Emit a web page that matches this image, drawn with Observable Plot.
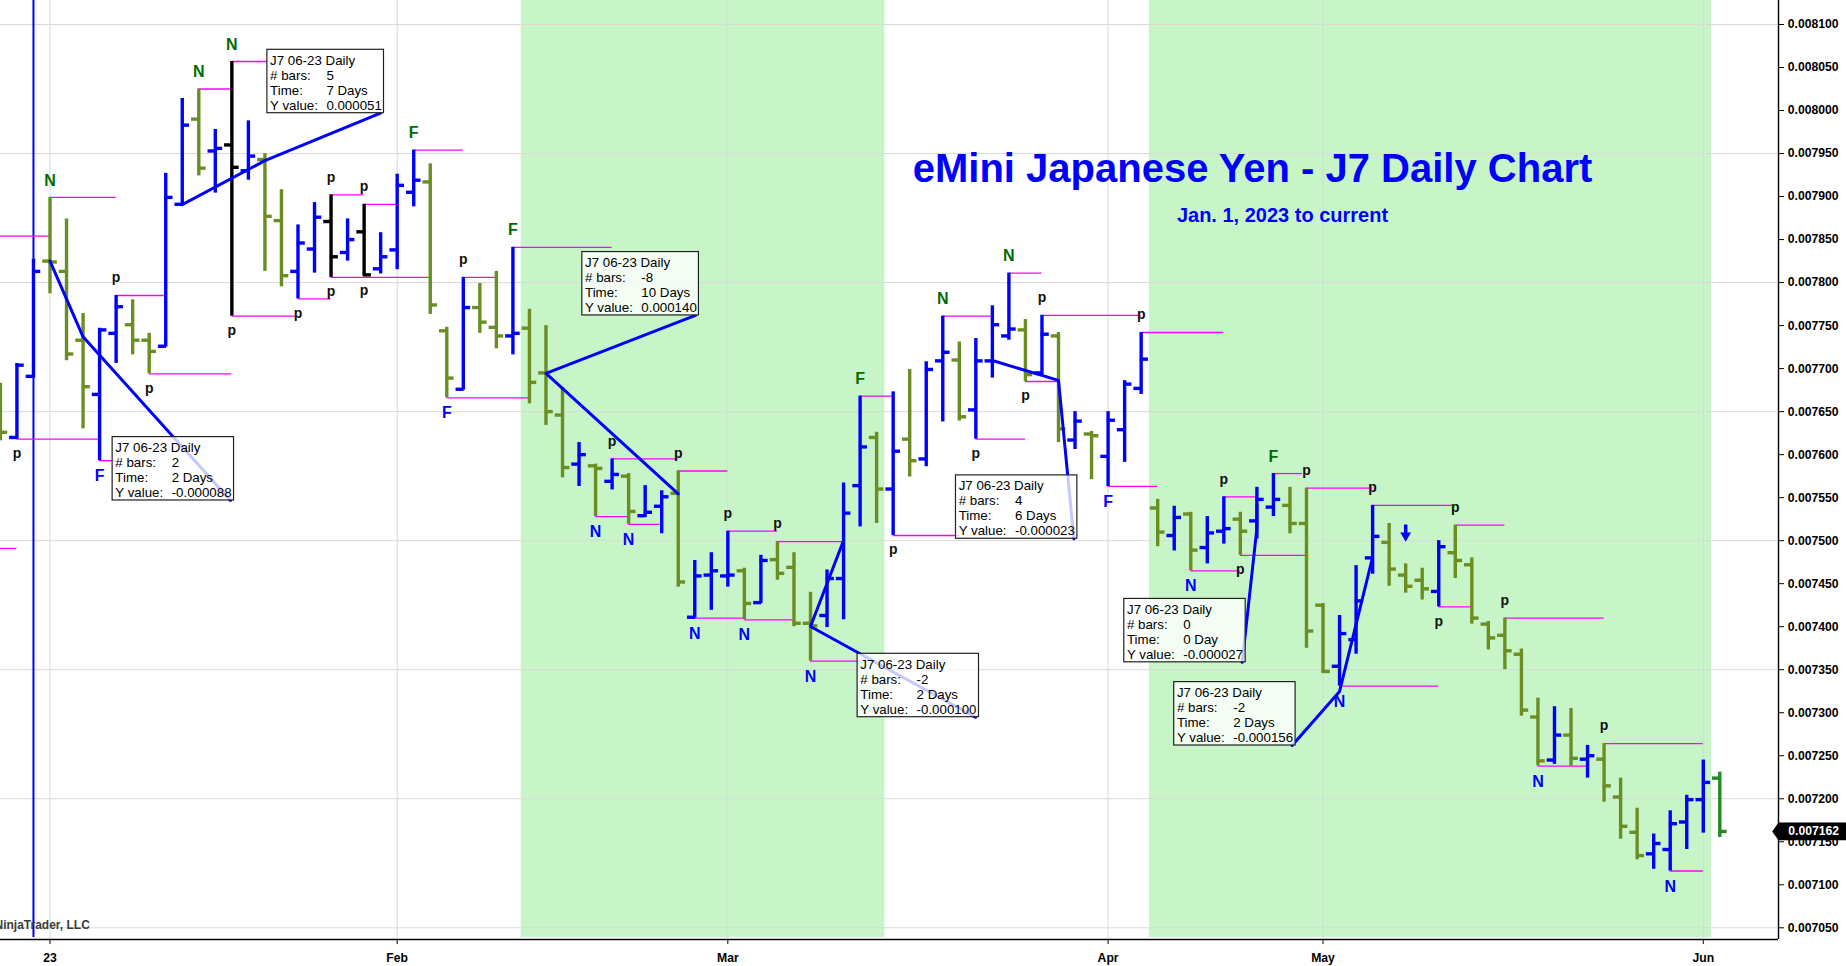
<!DOCTYPE html>
<html><head><meta charset="utf-8">
<script src="https://cdn.jsdelivr.net/npm/d3@7"></script>
<script src="https://cdn.jsdelivr.net/npm/@observablehq/plot@0.6"></script>
<style>html,body{margin:0;padding:0;background:#fff;overflow:hidden}</style>
</head><body><div id="chart"></div>
<script>
// ---------------- data ----------------
const firstBar = -3; // three December 2022 bars before Jan 3, 2023 (index 0)
const opens = [0.007660,0.007620,0.007691,
0.007825,0.007813,0.007733,0.007670,0.007741,0.007751,0.007733,0.007726,0.007891,0.007990,
0.007953,0.007960,0.007930,0.007943,0.007872,0.007813,0.007839,0.007871,0.007835,0.007859,
0.007816,0.007838,0.007905,0.007917,0.007744,0.007676,0.007771,0.007748,0.007738,0.007747,
0.007695,0.007646,0.007589,0.007587,0.007569,0.007575,0.007529,0.007540,0.007555,0.007411,
0.007460,0.007459,0.007465,0.007428,0.007478,0.007469,0.007404,0.007413,0.007456,0.007564,
0.007620,0.007560,0.007618,0.007595,0.007709,0.007710,0.007652,0.007709,0.007738,0.007745,
0.007695,0.007738,0.007617,0.007624,0.007598,0.007629,0.007677,0.007538,0.007506,0.007531,
0.007492,0.007511,0.007525,0.007523,0.007539,0.007541,0.007520,0.007425,0.007354,0.007385,
0.007480,0.007498,0.007460,0.007454,0.007441,0.007486,0.007472,0.007403,0.007390,0.007368,
0.007295,0.007245,0.007274,0.007246,0.007246,0.007202,0.007161,0.007136,0.007141,0.007173,
0.007199,0.007224];
const highs = [0.007683,0.007706,0.007827,
0.007899,0.007874,0.007764,0.007747,0.007785,0.007780,0.007741,0.007927,0.008014,0.008025,
0.007978,0.008057,0.007988,0.007950,0.007908,0.007867,0.007893,0.007902,0.007874,0.007891,
0.007858,0.007926,0.007954,0.007938,0.007748,0.007806,0.007799,0.007813,0.007841,0.007769,
0.007750,0.007678,0.007614,0.007589,0.007595,0.007578,0.007564,0.007558,0.007581,0.007477,
0.007486,0.007511,0.007468,0.007483,0.007499,0.007486,0.007440,0.007466,0.007567,0.007668,
0.007626,0.007673,0.007699,0.007708,0.007761,0.007731,0.007735,0.007773,0.007811,0.007757,
0.007762,0.007742,0.007650,0.007627,0.007650,0.007686,0.007742,0.007548,0.007540,0.007533,
0.007528,0.007551,0.007533,0.007562,0.007578,0.007562,0.007561,0.007427,0.007413,0.007471,
0.007541,0.007520,0.007473,0.007468,0.007500,0.007518,0.007480,0.007406,0.007410,0.007374,
0.007317,0.007307,0.007305,0.007262,0.007264,0.007224,0.007189,0.007159,0.007186,0.007204,
0.007245,0.007231];
const lows = [0.007616,0.007618,0.007689,
0.007787,0.007709,0.007630,0.007593,0.007706,0.007716,0.007694,0.007725,0.007890,0.007924,
0.007904,0.007761,0.007919,0.007813,0.007795,0.007781,0.007811,0.007806,0.007825,0.007808,
0.007810,0.007815,0.007888,0.007763,0.007666,0.007675,0.007741,0.007723,0.007716,0.007659,
0.007634,0.007573,0.007563,0.007528,0.007559,0.007519,0.007527,0.007508,0.007446,0.007410,
0.007419,0.007446,0.007408,0.007427,0.007454,0.007400,0.007360,0.007399,0.007408,0.007516,
0.007520,0.007506,0.007574,0.007586,0.007638,0.007639,0.007618,0.007689,0.007733,0.007685,
0.007693,0.007614,0.007606,0.007571,0.007563,0.007591,0.007670,0.007493,0.007488,0.007465,
0.007473,0.007496,0.007483,0.007502,0.007528,0.007508,0.007375,0.007346,0.007331,0.007368,
0.007461,0.007447,0.007439,0.007431,0.007423,0.007456,0.007403,0.007373,0.007350,0.007296,
0.007238,0.007240,0.007238,0.007224,0.007196,0.007153,0.007129,0.007118,0.007116,0.007141,
0.007160,0.007155];
const closes = [0.007626,0.007704,0.007813,
0.007824,0.007717,0.007679,0.007745,0.007772,0.007733,0.007720,0.007899,0.007983,0.007933,
0.007956,0.007934,0.007947,0.007877,0.007808,0.007846,0.007876,0.007830,0.007850,0.007809,
0.007830,0.007913,0.007919,0.007774,0.007689,0.007771,0.007754,0.007738,0.007741,0.007684,
0.007650,0.007585,0.007600,0.007584,0.007577,0.007534,0.007533,0.007551,0.007452,0.007459,
0.007465,0.007460,0.007427,0.007477,0.007462,0.007404,0.007401,0.007456,0.007532,0.007609,
0.007560,0.007604,0.007593,0.007699,0.007719,0.007644,0.007709,0.007751,0.007746,0.007693,
0.007740,0.007630,0.007639,0.007622,0.007640,0.007682,0.007711,0.007510,0.007527,0.007489,
0.007509,0.007514,0.007511,0.007548,0.007548,0.007520,0.007395,0.007348,0.007392,0.007430,
0.007505,0.007467,0.007447,0.007444,0.007493,0.007477,0.007410,0.007387,0.007372,0.007303,
0.007244,0.007274,0.007247,0.007250,0.007215,0.007168,0.007134,0.007148,0.007171,0.007199,
0.007219,0.007162];
const blackBars = [11, 17, 19];            // bars painted black
const monthTicks = [0, 21, 41, 64, 77, 100];
const monthLabels = ["23", "Feb", "Mar", "Apr", "May", "Jun"];
const shadedFrom = [28.5, 66.5];
const shadedTo = [50.5, 100.5];
const verticalLineBar = -1;
// swing level lines: start bar, end bar, price
const levelStart = [-3,-3,0,-2,3,4,6,9,11,11,15,17,17,19,22,24,25,28,33,34,35,38,39,41,42,44,46,49,51,54,56,58,59,60,64,66,69,71,72,74,76,78,80,84,85,88,90,94,98];
const levelEnd   = [0,-2,4,3,4,7,11,11,13.2,15,17,19,23,21,25,29,27,34,35,38,37,41,42,44,45,48,49,51,55,57,59,60,61,66,67,71,72,73,76,75.75,80,84,85,86,88,94,93,100,100];
const levelPrice = [0.007854,0.007491,0.007899,0.007618,0.007593,0.007785,0.007694,0.008025,0.008057,0.007761,0.007781,0.007902,0.007806,0.007891,0.007954,0.007666,0.007806,0.007841,0.007528,0.007595,0.007519,0.007581,0.007410,0.007511,0.007408,0.007499,0.007360,0.007668,0.007506,0.007761,0.007618,0.007811,0.007685,0.007762,0.007563,0.007742,0.007465,0.007551,0.007483,0.007578,0.007561,0.007331,0.007541,0.007423,0.007518,0.007410,0.007238,0.007264,0.007116];
// swing labels: bar, text, a = above high / b = below low
const swingLabels = [[-2,"p","b"],[0,"N","a"],[3,"F","b"],[4,"p","a"],[6,"p","b"],[9,"N","a"],[11,"N","a"],[11,"p","b"],[15,"p","b"],[17,"p","a"],[17,"p","b"],[19,"p","a"],[19,"p","b"],[22,"F","a"],[24,"F","b"],[25,"p","a"],[28,"F","a"],[33,"N","b"],[34,"p","a"],[35,"N","b"],[38,"p","a"],[39,"N","b"],[41,"p","a"],[42,"N","b"],[44,"p","a"],[46,"N","b"],[49,"F","a"],[51,"p","b"],[54,"N","a"],[56,"p","b"],[58,"N","a"],[59,"p","b"],[60,"p","a"],[64,"F","b"],[66,"p","a"],[69,"N","b"],[71,"p","a"],[72,"p","b"],[74,"F","a"],[76,"p","a"],[78,"N","b"],[80,"p","a"],[84,"p","b"],[85,"p","a"],[88,"p","a"],[90,"N","b"],[94,"p","a"],[98,"N","b"]];
// ruler measurements
const rulerStartBar = [0, 8, 38, 48, 57, 73, 80];
const rulerStartPrice = [0.0078250, 0.0078907, 0.0075545, 0.0075002, 0.0077094, 0.0075412, 0.0074808];
const rulerBars = [2, 5, -8, -2, 4, 0, -2];
const rulerDays = [2, 7, 10, 2, 6, 0, 2];
const rulerYValue = [-0.000088, 0.000051, 0.000140, -0.000100, -0.000023, -0.000027, -0.000156];
const rulerTagBar = [10.92, 19.99, 39.04, 55.98, 61.93, 72.11, 75.13];
const rulerTagPrice = [0.0075467, 0.0079969, 0.0077618, 0.0072948, 0.0075022, 0.0073586, 0.0072619];
const arrowBar = 82, arrowPrice = 0.0075060;
const title = "eMini Japanese Yen - J7 Daily Chart";
const subtitle = "Jan. 1, 2023 to current";
const instrument = "J7 06-23 Daily";

// ---------------- layout ----------------
const W = 1846, H = 966, mL = 0, mR = 68, mT = 0, mB = 27;
const xDomain = [-2.994, 104.55];
const yDomain = [0.0070364, 0.0081279];
const kx = (W - mL - mR) / (xDomain[1] - xDomain[0]);
const ky = (H - mT - mB) / (yDomain[1] - yDomain[0]);
const FONT = "'Liberation Sans', Arial, Helvetica, sans-serif";

const bars = opens.map((o, k) => ({i: firstBar + k, open: o, high: highs[k], low: lows[k], close: closes[k]}));
const lastIdx = bars[bars.length - 1].i;
const barColor = d => d.i === lastIdx ? "#228b22" : blackBars.includes(d.i) ? "#000000" : d.close >= d.open ? "#0000ff" : "#6b8e23";
const byIdx = new Map(bars.map(d => [d.i, d]));
const levels = levelStart.map((s, k) => ({s, e: levelEnd[k], p: levelPrice[k]}));
const bands = shadedFrom.map((a, k) => ({a, b: shadedTo[k]}));
const labels = swingLabels.map(([i, t, side]) => ({i, t, side, y: side === "a" ? byIdx.get(i).high : byIdx.get(i).low}));
const fmtSigned = v => (v < 0 ? "-" : "") + Math.abs(v).toFixed(6);
const rulers = rulerStartBar.map((a, k) => ({
  k, ax: a, ay: rulerStartPrice[k],
  bx: a + rulerBars[k], by: rulerStartPrice[k] + rulerYValue[k],
  tx: rulerTagBar[k], ty: rulerTagPrice[k],
  w: rulerYValue[k] < 0 ? 121.4 : 116.6,
  vals: `\n${rulerBars[k] < 0 ? "-" + Math.abs(rulerBars[k]) : rulerBars[k]}\n${rulerDays[k]} ${rulerDays[k] > 1 ? "Days" : "Day"}\n${fmtSigned(rulerYValue[k])}`
}));
const rulerPts = rulers.flatMap(r => [{r: r.k, x: r.ax, y: r.ay}, {r: r.k, x: r.bx, y: r.by}, {r: r.k, x: r.tx, y: r.ty}]);
const boxRight = r => r.tx + 3.5 / kx;
const boxLeft = r => boxRight(r) - r.w / kx;
const tick = 7.3 / kx;
const yTicks = d3.range(0, 22).map(k => +(0.00705 + k * 0.00005).toFixed(6));
const yGrid = d3.range(0, 8).map(k => +(0.00705 + k * 0.00015).toFixed(6));
const lastClose = closes[closes.length - 1];
const tagPoly = [
  {x: xDomain[1] - 6.3 / kx, y: lastClose},
  {x: xDomain[1], y: lastClose + 8.9 / ky},
  {x: xDomain[1] + 80 / kx, y: lastClose + 8.9 / ky},
  {x: xDomain[1] + 80 / kx, y: lastClose - 8.9 / ky},
  {x: xDomain[1], y: lastClose - 8.9 / ky}
];
const labelFont = {fontWeight: "bold", fontFamily: FONT};

const chart = Plot.plot({
  width: W, height: H, marginLeft: mL, marginRight: mR, marginTop: mT, marginBottom: mB,
  x: {domain: xDomain, axis: null},
  y: {domain: yDomain, axis: null},
  style: {fontFamily: FONT, background: "#ffffff", color: "#000"},
  marks: [
    Plot.rect(bands, {x1: "a", x2: "b", fill: "#c8f5c8", insetBottom: 2}),
    Plot.gridX(monthTicks, {stroke: "#d9d9d9", strokeOpacity: 1, strokeWidth: 1}),
    Plot.gridY(yGrid, {stroke: "#d9d9d9", strokeOpacity: 1, strokeWidth: 1}),
    Plot.ruleX([verticalLineBar], {stroke: "#0000ff", strokeWidth: 2, insetBottom: 2}),
    Plot.ruleY(levels, {y: "p", x1: "s", x2: "e", stroke: "#ff00ff", strokeWidth: 1.3}),
    Plot.ruleX(bars, {x: "i", y1: "low", y2: "high", stroke: barColor, strokeWidth: 3.4}),
    Plot.ruleY(bars, {y: "open", x1: d => d.i - tick, x2: d => d.i + 0.05, stroke: barColor, strokeWidth: 3.4}),
    Plot.ruleY(bars, {y: "close", x1: d => d.i - 0.05, x2: d => d.i + tick, stroke: barColor, strokeWidth: 3.4}),
    Plot.text(labels.filter(d => d.t !== "p" && d.side === "a"), {x: "i", y: "y", text: "t", dy: -17, fill: "#006b00", fontSize: 16, ...labelFont}),
    Plot.text(labels.filter(d => d.t !== "p" && d.side === "b"), {x: "i", y: "y", text: "t", dy: 15.5, fill: "#0000ff", fontSize: 16, ...labelFont}),
    Plot.text(labels.filter(d => d.t === "p" && d.side === "a"), {x: "i", y: "y", text: "t", dy: -17.7, fill: "#111", fontSize: 14, ...labelFont}),
    Plot.text(labels.filter(d => d.t === "p" && d.side === "b"), {x: "i", y: "y", text: "t", dy: 14.4, fill: "#111", fontSize: 14, ...labelFont}),
    Plot.line(rulerPts, {x: "x", y: "y", z: "r", stroke: "#0000ff", strokeWidth: 3, strokeLinejoin: "round"}),
    Plot.rect(rulers, {x1: boxLeft, x2: boxRight, y1: "ty", y2: d => d.ty + 63.4 / ky, fill: "#ffffff", fillOpacity: 0.78, stroke: "#222", strokeWidth: 1.2}),
    Plot.text(rulers, {x: boxLeft, y: "ty", text: () => instrument + "\n# bars:\nTime:\nY value:", textAnchor: "start", lineAnchor: "bottom", dx: 2.7, dy: -3.4, lineHeight: 15 / 13.3, fontSize: 13.3, fill: "#000"}),
    Plot.text(rulers, {x: boxLeft, y: "ty", text: "vals", textAnchor: "start", lineAnchor: "bottom", dx: 59, dy: -3.4, lineHeight: 15 / 13.3, fontSize: 13.3, fill: "#000"}),
    Plot.ruleX([arrowBar], {x: d => d, y1: arrowPrice + 10.5 / ky, y2: arrowPrice - 1 / ky, stroke: "#0000ff", strokeWidth: 3.5}),
    Plot.dot([arrowBar], {x: d => d, y: () => arrowPrice, dy: 0, symbol: "triangle", rotate: 180, r: 4, fill: "#0000ff", stroke: "none"}),
    Plot.text([title], {frameAnchor: "top-left", dx: 1252, dy: 181.5, textAnchor: "middle", lineAnchor: "bottom", fontSize: 40, fontWeight: "bold", fill: "#0000ff"}),
    Plot.text([subtitle], {frameAnchor: "top-left", dx: 1282, dy: 221, textAnchor: "middle", lineAnchor: "bottom", fontSize: 20, fontWeight: "bold", fill: "#0000ff"}),
    Plot.text(["NinjaTrader, LLC"], {frameAnchor: "top-left", dx: -6, dy: 928, textAnchor: "start", lineAnchor: "bottom", fontSize: 12, fontWeight: "bold", fill: "#3c3c3c"}),
    Plot.ruleX([xDomain[1]], {stroke: "#000", strokeWidth: 1.4}),
    Plot.ruleY([yDomain[0]], {stroke: "#000", strokeWidth: 1.4}),
    Plot.axisY(yTicks, {anchor: "right", tickFormat: d3.format(".6f"), tickSize: 5, tickPadding: 4.3, fontSize: 12.2, fontWeight: "bold", label: null, stroke: "#000"}),
    Plot.axisX(monthTicks, {anchor: "bottom", tickFormat: d => monthLabels[monthTicks.indexOf(d)], tickSize: 5, tickPadding: 9, fontSize: 12.2, fontWeight: "bold", label: null, stroke: "#000"}),
    Plot.line(tagPoly, {x: "x", y: "y", fill: "#000", stroke: "none"}),
    Plot.text([lastClose], {x: () => xDomain[1], y: d => d, text: d => d.toFixed(6), textAnchor: "start", dx: 9.8, fontSize: 12.2, fontWeight: "bold", fill: "#fff"})
  ]
});
document.getElementById("chart").appendChild(chart);
</script>
</body></html>
